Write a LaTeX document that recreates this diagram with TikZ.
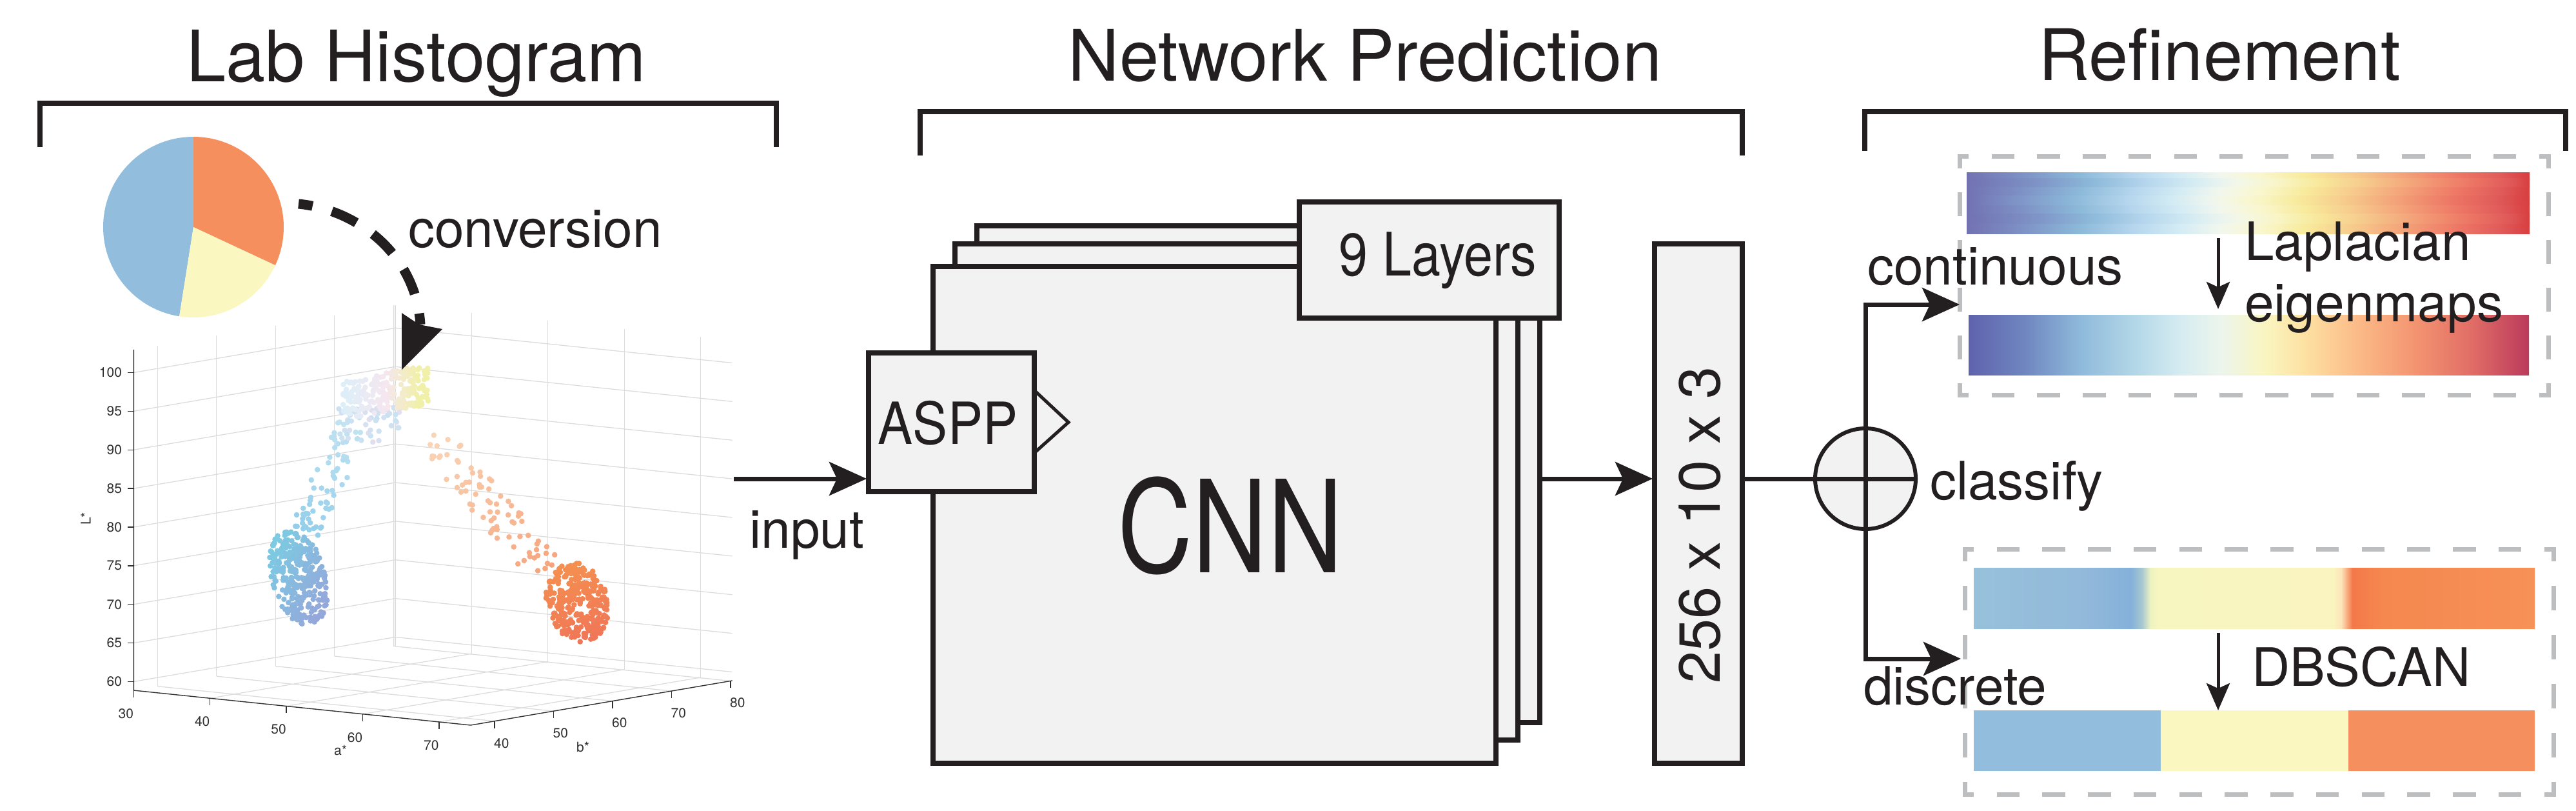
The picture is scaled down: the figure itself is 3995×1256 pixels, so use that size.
\documentclass[tikz,border=0pt]{standalone}
\usepackage{fontspec}
\setmainfont{TeX Gyre Heros}
\usepackage{graphicx}
\usetikzlibrary{arrows.meta}
\definecolor{ink}{HTML}{231F20}
\definecolor{boxfill}{HTML}{F2F2F2}
\definecolor{dgray}{HTML}{BCBEC0}
\definecolor{pieblue}{HTML}{92BDDC}
\definecolor{pieyellow}{HTML}{FAF7C1}
\definecolor{pieorange}{HTML}{F68F5E}
\definecolor{gridc}{HTML}{DCDCDC}
\definecolor{axisc}{HTML}{303030}
\definecolor{bTop}{HTML}{7CCBE2}
\definecolor{bBot}{HTML}{95A6DA}
\definecolor{tBlue}{HTML}{DCEFF8}
\definecolor{tPink}{HTML}{F5E6F0}
\definecolor{tYel}{HTML}{F1F0A8}
\definecolor{tLav}{HTML}{E6DDF0}
\definecolor{trA}{HTML}{C2E3F2}
\definecolor{trB}{HTML}{94CEEA}
\definecolor{pTop}{HTML}{F9D6B8}
\definecolor{pBot}{HTML}{F6A47C}
\definecolor{oTop}{HTML}{F5924F}
\definecolor{oBot}{HTML}{EF7458}
% bar 1 colours
\definecolor{a00}{HTML}{7272B2}\definecolor{a01}{HTML}{7E92C6}\definecolor{a02}{HTML}{8CB9D9}
\definecolor{a03}{HTML}{B7D7EE}\definecolor{a04}{HTML}{D4ECF4}\definecolor{a05}{HTML}{F2F7EE}
\definecolor{a06}{HTML}{F9F7CF}\definecolor{a07}{HTML}{F8EB9C}\definecolor{a08}{HTML}{F7CD8E}
\definecolor{a09}{HTML}{F4A57A}\definecolor{a10}{HTML}{EE7866}\definecolor{a11}{HTML}{E05A5A}
\definecolor{a12}{HTML}{D83E40}
% bar 2 colours
\definecolor{b00}{HTML}{5F62AD}\definecolor{b01}{HTML}{6F86C0}\definecolor{b02}{HTML}{8FBADB}
\definecolor{b03}{HTML}{B4D8E8}\definecolor{b04}{HTML}{D6ECF1}\definecolor{b05}{HTML}{ECF5EC}
\definecolor{b06}{HTML}{FAF5C0}\definecolor{b07}{HTML}{FDE1A2}\definecolor{b08}{HTML}{FBB886}
\definecolor{b09}{HTML}{F39370}\definecolor{b10}{HTML}{E06C66}\definecolor{b11}{HTML}{BB3A5B}
% bar 3 colours
\definecolor{c00}{HTML}{97C1DB}\definecolor{c01}{HTML}{92B9DA}\definecolor{c02}{HTML}{84B0DA}
\definecolor{c03}{HTML}{A8C8D0}\definecolor{c04}{HTML}{EEF2C0}\definecolor{c05}{HTML}{F8F6C0}
\definecolor{c06}{HTML}{FAF4C0}\definecolor{c07}{HTML}{FDE4B8}\definecolor{c08}{HTML}{F4784A}
\definecolor{c09}{HTML}{F5884F}\definecolor{c10}{HTML}{F69158}
\pgfdeclarehorizontalshading{contA}{100bp}{color(0bp)=(a00); color(25bp)=(a00); color(30bp)=(a01); color(35bp)=(a02); color(40bp)=(a03); color(44bp)=(a04); color(47.5bp)=(a05); color(51bp)=(a06); color(55bp)=(a07); color(59bp)=(a08); color(63.5bp)=(a09); color(68.5bp)=(a10); color(72.5bp)=(a11); color(75bp)=(a12); color(100bp)=(a12)}
\pgfdeclarehorizontalshading{contAs}{100bp}{color(0bp)=(a00); color(25bp)=(a00); color(31.5bp)=(a01); color(36.5bp)=(a02); color(41.5bp)=(a03); color(45.5bp)=(a04); color(49bp)=(a05); color(52.5bp)=(a06); color(56.5bp)=(a07); color(60.5bp)=(a08); color(65bp)=(a09); color(70bp)=(a10); color(73.5bp)=(a11); color(75bp)=(a12); color(100bp)=(a12)}
\pgfdeclarehorizontalshading{contAt}{100bp}{color(0bp)=(a00); color(25bp)=(a00); color(28.5bp)=(a01); color(34bp)=(a02); color(39bp)=(a03); color(43bp)=(a04); color(46.5bp)=(a05); color(50bp)=(a06); color(54bp)=(a07); color(58bp)=(a08); color(62.5bp)=(a09); color(67.5bp)=(a10); color(72bp)=(a11); color(75bp)=(a12); color(100bp)=(a12)}
\pgfdeclarehorizontalshading{contB}{100bp}{color(0bp)=(b00); color(25bp)=(b00); color(30bp)=(b01); color(35bp)=(b02); color(40bp)=(b03); color(44bp)=(b04); color(47.5bp)=(b05); color(51.5bp)=(b06); color(55bp)=(b07); color(60bp)=(b08); color(65bp)=(b09); color(70bp)=(b10); color(75bp)=(b11); color(100bp)=(b11)}
\pgfdeclarehorizontalshading{discA}{100bp}{color(0bp)=(c00); color(25bp)=(c00); color(35bp)=(c01); color(39bp)=(c02); color(40bp)=(c03); color(40.75bp)=(c04); color(41.5bp)=(c05); color(57bp)=(c06); color(57.75bp)=(c07); color(58.75bp)=(c08); color(61.5bp)=(c09); color(75bp)=(c10); color(100bp)=(c10)}
\begin{document}
\begin{tikzpicture}[x=1pt,y=-1pt,
  stackbox/.style={draw=ink, fill=boxfill, line width=7.5pt, inner sep=0pt, outer sep=0pt},
  lbl/.style={inner sep=0pt, outer sep=0pt, font=\fontsize{82}{90}\selectfont, text=ink},
  ttl/.style={inner sep=0pt, outer sep=0pt, font=\fontsize{110}{120}\selectfont, text=ink, anchor=base},
  brk/.style={draw=ink, line width=7.5pt, line join=miter},
  conn/.style={draw=ink, line width=7pt, line join=miter},
  mainarrow/.style={conn, -{Stealth[length=58pt, width=52pt, inset=12pt]}},
  smallarrow/.style={draw=ink, line width=5pt, -{Stealth[length=42pt, width=36pt, inset=8pt]}},
  bar/.style={inner sep=0pt, outer sep=0pt, draw=none},
  ticklbl/.style={inner sep=0pt, outer sep=0pt, font=\fontsize{21}{24}\selectfont, text=axisc},
  gridln/.style={draw=gridc, line width=1.3pt},
  axisln/.style={draw=axisc, line width=1.4pt}]
\useasboundingbox (0,0) rectangle (3995,1256);

% ---------- titles and brackets ----------
\node[ttl] (tlab) at (646,126) {Lab Histogram};
\node[ttl] (tnet) at (2117,125) {Network Prediction};
\node[ttl] (tref) at (3442,124) {Refinement};
\draw[brk] (62,228) -- (62,160) -- (1204,160) -- (1204,228);
\draw[brk] (1427,241) -- (1427,173) -- (2702,173) -- (2702,241);
\draw[brk] (2892,234) -- (2892,173) -- (3979,173) -- (3979,234);

% ---------- pie ----------
\coordinate (pie) at (300,352);
\fill[pieorange] (pie) -- ++(25:140) arc[start angle=25, end angle=-90, radius=140] -- cycle;
\fill[pieblue] (pie) -- ++(-90:140) arc[start angle=-90, end angle=-261, radius=140] -- cycle;
\fill[pieyellow] (pie) -- ++(-261:140) arc[start angle=-261, end angle=-335, radius=140] -- cycle;

% ---------- 3D plot grid ----------
\foreach \bv in {40,50,60,70,80}{
  \draw[gridln] ({207.3+(\bv-35.96)*9.15},{1070-(\bv-35.96)*1.556}) -- ++(0,-528);
  \draw[gridln] ({207.3+(\bv-35.96)*9.15},{1070-(\bv-35.96)*1.556}) -- ++(522.6,54);
}
\foreach \av in {30,40,50,60,70}{
  \draw[gridln] ({613+(\av-30)*11.84},{1001+(\av-30)*1.224}) -- ++(0,-528);
}
\foreach \av in {40,50,60,70}{
  \draw[gridln] ({207.3+(\av-30)*11.84},{1070+(\av-30)*1.224}) -- ++(405.7,-69);
}
\foreach \lv in {60,65,...,100}{
  \draw[gridln] (207.3,{1070-(\lv-58.87)*11.975}) -- ++(405.7,-69) -- ++(522.6,54);
}
\draw[axisln] (207.3,541.9) -- (207.3,1070) -- (729.9,1124) -- (1135.6,1055);
\foreach \lv in {60,65,...,100}{
  \draw[axisln] (207.3,{1070-(\lv-58.87)*11.975}) -- ++(-9,0);
  \node[ticklbl, anchor=east] (lt\lv) at (189,{1070-(\lv-58.87)*11.975}) {\lv};
}
\foreach \av in {30,40,50,60,70}{
  \draw[axisln] ({207.3+(\av-30)*11.84},{1070+(\av-30)*1.224}) -- ++(0,11);
  \node[ticklbl] (at\av) at ({195.3+(\av-30)*11.84},{1106+(\av-30)*1.224}) {\av};
}
\foreach \bv in {40,50,60,70,80}{
  \draw[axisln] ({729.9+(\bv-35.96)*9.15},{1124-(\bv-35.96)*1.556}) -- ++(0,11);
  \node[ticklbl] (bt\bv) at ({740.9+(\bv-35.96)*9.15},{1158-(\bv-35.96)*1.556}) {\bv};
}
\node[ticklbl, rotate=90] (Llab) at (133,804) {L*};
\node[ticklbl] (alab) at (528,1163) {a*};
\node[ticklbl] (blab) at (904,1158) {b*};

% ---------- scatter ----------
\pgfmathsetseed{4242}
% blue cluster
\foreach \i in {1,...,320}{
  \pgfmathsetmacro\rr{sqrt(rnd)}
  \pgfmathsetmacro\ag{360*rnd}
  \pgfmathsetmacro\ua{\rr*cos(\ag)}
  \pgfmathsetmacro\va{\rr*sin(\ag)}
  \pgfmathsetmacro\qx{463+42*\ua*0.966+76*\va*0.259}
  \pgfmathsetmacro\qy{895-42*\ua*0.259+76*\va*0.966}
  \pgfmathtruncatemacro\mx{max(0,min(100,50+45*\va+25*\ua))}
  \fill[bBot!\mx!bTop] (\qx,\qy) circle[radius=4.3];
}
% blue trail
\foreach \i in {1,...,70}{
  \pgfmathsetmacro\tr{rnd^1.2}
  \pgfmathsetmacro\sr{rand}
  \pgfmathsetmacro\qx{468+82*\tr+24*\sr}
  \pgfmathsetmacro\qy{822-165*\tr+12*\sr}
  \pgfmathtruncatemacro\mx{100*\tr}
  \fill[trA!\mx!trB] (\qx,\qy) circle[radius=4.3];
}
% lower part of the top cluster
\foreach \i in {1,...,55}{
  \pgfmathsetmacro\qx{525+95*rnd}
  \pgfmathsetmacro\qy{632+55*rnd^1.5}
  \pgfmathtruncatemacro\mx{100*rnd}
  \fill[tLav!\mx!trA] (\qx,\qy) circle[radius=4.3];
}
% top cluster
\foreach \i in {1,...,110}{
  \pgfmathsetmacro\tr{0.5*rnd}
  \pgfmathsetmacro\sr{rand}
  \pgfmathsetmacro\qx{532+132*\tr}
  \pgfmathsetmacro\qy{618-14*\tr+30*\sr}
  \pgfmathtruncatemacro\mx{200*\tr}
  \fill[tPink!\mx!tBlue] (\qx,\qy) circle[radius=4.3];
}
\foreach \i in {1,...,130}{
  \pgfmathsetmacro\tr{0.5+0.5*rnd}
  \pgfmathsetmacro\sr{rand}
  \pgfmathsetmacro\qx{532+132*\tr}
  \pgfmathsetmacro\qy{612-14*\tr+31*\sr}
  \pgfmathtruncatemacro\mx{min(100,260*(\tr-0.5))}
  \fill[tYel!\mx!tPink] (\qx,\qy) circle[radius=4.3];
}
% orange trail
\foreach \i in {1,...,80}{
  \pgfmathsetmacro\tr{rnd}
  \pgfmathsetmacro\sr{rand}
  \pgfmathsetmacro\qx{668+180*\tr+21*\sr}
  \pgfmathsetmacro\qy{675+210*\tr-18*\sr}
  \pgfmathtruncatemacro\mx{100*\tr}
  \fill[pBot!\mx!pTop] (\qx,\qy) circle[radius=4.3];
}
% orange cluster
\foreach \i in {1,...,320}{
  \pgfmathsetmacro\rr{sqrt(rnd)}
  \pgfmathsetmacro\ag{360*rnd}
  \pgfmathsetmacro\ua{\rr*cos(\ag)}
  \pgfmathsetmacro\va{\rr*sin(\ag)}
  \pgfmathsetmacro\qx{895+47*\ua*0.956+63*\va*0.292}
  \pgfmathsetmacro\qy{933-47*\ua*0.292+63*\va*0.956}
  \pgfmathtruncatemacro\mx{max(0,min(100,50+45*\va))}
  \fill[oBot!\mx!oTop] (\qx,\qy) circle[radius=4.3];
}

% ---------- conversion arrow ----------
\coordinate (convA) at (463,316);
\coordinate (convB) at (652,503);
\draw[ink, line width=15pt, dash pattern=on 42pt off 31pt, dash phase=20pt] (convA) .. controls (555,325) and (645,395) .. (convB);
\fill[ink] (623,485) -- (650,503) -- (686,510) -- (623,573) -- cycle;
\node[lbl, anchor=base west] (conv) at (633,383) {conversion};

% ---------- network ----------
\node[stackbox, minimum width=873pt, minimum height=770pt] (cnn3) at (1951.5,735) {};
\node[stackbox, minimum width=873pt, minimum height=769pt] (cnn2) at (1917.5,762.5) {};
\node[stackbox, minimum width=873pt, minimum height=770pt] (cnn1) at (1883.5,798) {};
\node[stackbox, minimum width=403pt, minimum height=180pt] (layers) at (2216.5,403) {};
\node[lbl, anchor=base, font=\fontsize{93}{100}\selectfont] (layerstxt) at (2230,427) {\scalebox{0.87}[1]{9 Layers}};
\node[stackbox, minimum width=257pt, minimum height=215pt] (aspp) at (1475.5,654.5) {};
\node[lbl, anchor=base, font=\fontsize{90}{100}\selectfont] (aspptxt) at (1470,688) {\scalebox{0.9}[1]{ASPP}};
\draw[ink, line width=5pt, line join=miter] ([yshift=49.5pt]aspp.east) -- ++(53,49.5) -- ([yshift=-47.5pt]aspp.east);
\node[lbl, anchor=base, font=\fontsize{199}{210}\selectfont] (cnntxt) at (1908,887) {\scalebox{0.81}[1]{CNN}};
\node[stackbox, minimum width=136pt, minimum height=805pt] (outbox) at (2634,780.5) {};
\node[lbl, rotate=90, font=\fontsize{90}{96}\selectfont] (outtxt) at (2636,814) {256 x 10 x 3};

\coordinate (ymid) at (0,742);
\coordinate (instart) at (1138,742);
\draw[mainarrow, shorten >=3pt] (instart) -- (aspp.west |- ymid);
\node[lbl, anchor=base west] (inputtxt) at (1162,849) {input};
\draw[mainarrow, shorten >=3pt] (cnn3.east |- ymid) -- (outbox.west |- ymid);

% ---------- refinement ----------
\node[bar, minimum width=913pt, minimum height=370pt] (ubox) at (3495.5,427) {};
\node[bar, minimum width=913pt, minimum height=380pt] (lbox) at (3503.5,1041) {};
\begin{scope}[draw=dgray, line width=7pt]
  \draw[dash pattern=on 35.38pt off 35.38pt, dash phase=17.69pt] ([xshift=-3.5pt]ubox.north west) -- ([xshift=3.5pt]ubox.north east);
  \draw[dash pattern=on 35.38pt off 35.38pt, dash phase=17.69pt] ([xshift=-3.5pt]ubox.south west) -- ([xshift=3.5pt]ubox.south east);
  \draw[dash pattern=on 37pt off 37pt, dash phase=18.5pt] (ubox.north west) -- (ubox.south west);
  \draw[dash pattern=on 37pt off 37pt, dash phase=18.5pt] (ubox.north east) -- (ubox.south east);
  \draw[dash pattern=on 35.38pt off 35.38pt, dash phase=17.69pt] ([xshift=-3.5pt]lbox.north west) -- ([xshift=3.5pt]lbox.north east);
  \draw[dash pattern=on 35.38pt off 35.38pt, dash phase=17.69pt] ([xshift=-3.5pt]lbox.south west) -- ([xshift=3.5pt]lbox.south east);
  \draw[dash pattern=on 38pt off 38pt, dash phase=19pt] (lbox.north west) -- (lbox.south west);
  \draw[dash pattern=on 38pt off 38pt, dash phase=19pt] (lbox.north east) -- (lbox.south east);
\end{scope}

\node[bar, minimum width=873pt, minimum height=95pt, shading=contA] (bar1) at (3486.5,314.5) {};
\shade[shading=contAs, opacity=0.7] (3050,276) rectangle (3923,289);
\shade[shading=contAt, opacity=0.6] (3050,303) rectangle (3923,317);
\shade[shading=contAs, opacity=0.6] (3050,331) rectangle (3923,346);
\node[bar, minimum width=869pt, minimum height=93pt, shading=contB] (bar2) at (3487.5,534.5) {};
\node[bar, minimum width=870pt, minimum height=94pt, shading=discA] (bar3) at (3496,927) {};
\node[bar, fill=pieblue, minimum width=290pt, minimum height=94pt] (bar4a) at (3206,1148) {};
\node[bar, fill=pieyellow, minimum width=291pt, minimum height=94pt] (bar4b) at (3496.5,1148) {};
\node[bar, fill=pieorange, minimum width=289pt, minimum height=94pt] (bar4c) at (3786.5,1148) {};

\coordinate (lapx) at (3440,0);
\draw[smallarrow, shorten <=7pt, shorten >=9pt] (bar1.south -| lapx) -- (bar2.north -| lapx);
\draw[smallarrow, shorten <=7pt] (bar3.south -| lapx) -- (bar4b.north -| lapx);

\node[circle, draw=ink, fill=boxfill, line width=6pt, minimum size=156pt, inner sep=0pt] (circ) at (2893,742) {};
\draw[conn] (outbox.east |- ymid) -- (circ.east);
\coordinate (upy) at (0,472);
\coordinate (lowy) at (0,1021);
\draw[mainarrow] (circ.south) -- (circ.north) -- (circ.north |- upy) -- (ubox.west |- upy);
\draw[mainarrow, shorten >=6pt] (circ.south) -- (circ.south |- lowy) -- (lbox.west |- lowy);

\node[lbl, anchor=base west] (cont) at (2896,441) {continuous};
\node[lbl, anchor=base west] (disc) at (2890,1092) {discrete};
\node[lbl, anchor=base west] (clas) at (2993,774) {classify};
\node[lbl, anchor=base west] (lap) at (3481,403) {Laplacian};
\node[lbl, anchor=base west] (eig) at (3481,498) {eigenmaps};
\node[lbl, anchor=base west] (dbs) at (3492,1063) {DBSCAN};
\end{tikzpicture}
\end{document}
